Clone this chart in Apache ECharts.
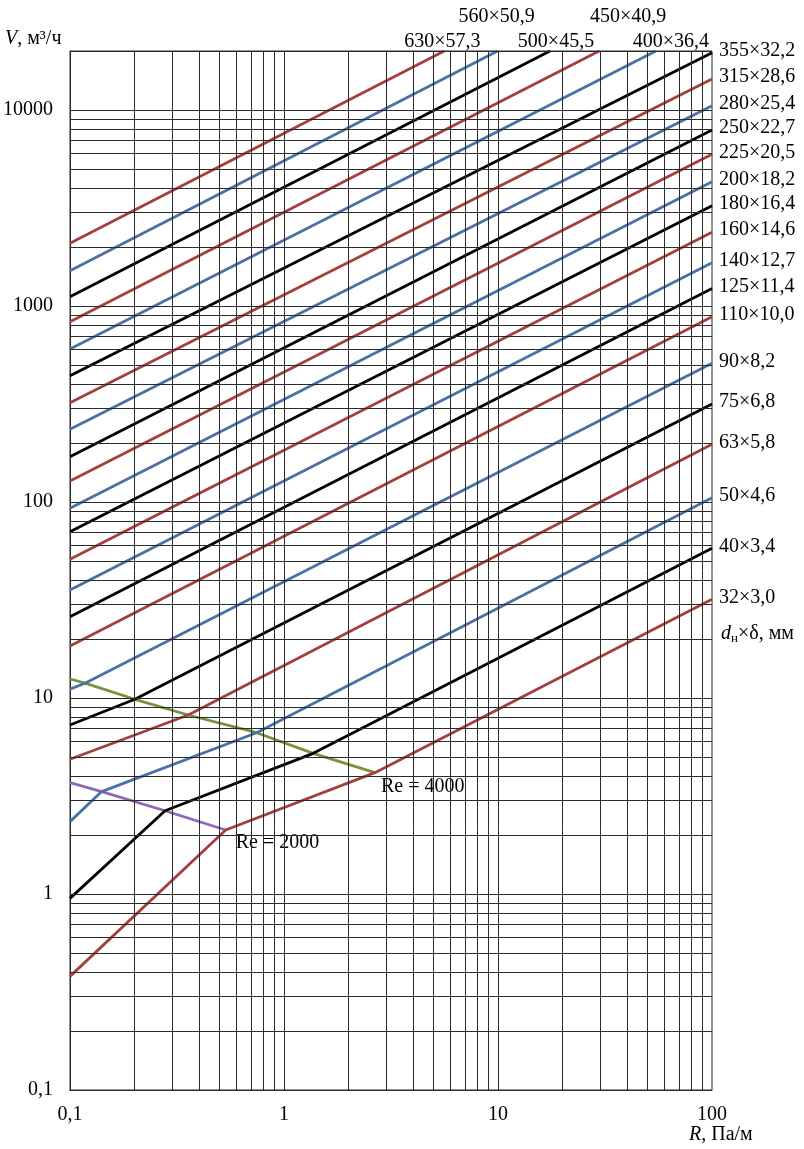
<!DOCTYPE html>
<html>
<head>
<meta charset="utf-8">
<script src="https://cdn.jsdelivr.net/npm/echarts@6/dist/echarts.min.js"></script>
<style>
html,body{margin:0;padding:0;background:#fff;}
#chart{width:804px;height:1149px;}
</style>
</head>
<body>
<div id="chart"></div>
<script>
// ---------- DATA ----------
const xTickLabels = ['0,1', '1', '10', '100'];
const yTickLabels = ['0,1', '1', '10', '100', '1000', '10000'];

const pipeNames = ['32×3,0','40×3,4','50×4,6','63×5,8','75×6,8','90×8,2','110×10,0','125×11,4',
  '140×12,7','160×14,6','180×16,4','200×18,2','225×20,5','250×22,7','280×25,4','315×28,6',
  '355×32,2','400×36,4','450×40,9','500×45,5','560×50,9','630×57,3'];

// [R, V] points of each pipe curve (R in Па/м, V in м³/ч)
const pipe32  = [[0.1,0.38],[0.534,2.12],[2.66,4.16],[100,31.9]];
const pipe40  = [[0.1,0.95],[0.278,2.66],[1.37,5.22],[100,58]];
const pipe50  = [[0.1,2.34],[0.1406,3.33],[0.745,6.65],[100,105]];
const pipe63  = [[0.1,4.87],[0.357,8.19],[100,197]];
const pipe75  = [[0.1,7.28],[0.201,9.85],[100,316]];
const pipe90  = [[0.1,11.1],[0.1175,11.9],[100,510]];
const pipe110 = [[0.1,18.4],[100,882]];
const pipe125 = [[0.1,26],[100,1230]];
const pipe140 = [[0.1,35.6],[100,1660]];
const pipe160 = [[0.1,51],[100,2380]];
const pipe180 = [[0.1,70.6],[100,3250]];
const pipe200 = [[0.1,92.9],[100,4310]];
const pipe225 = [[0.1,128],[100,5940]];
const pipe250 = [[0.1,170],[100,7900]];
const pipe280 = [[0.1,235],[100,10500]];
const pipe315 = [[0.1,321],[100,14400]];
const pipe355 = [[0.1,441],[100,19600]];
const pipe400 = [[0.1,604],[54.7,20000]];
const pipe450 = [[0.1,832],[29.7,20000]];
const pipe500 = [[0.1,1115],[17.5,20000]];
const pipe560 = [[0.1,1514],[9.96,20000]];
const pipe630 = [[0.1,2089],[5.61,20000]];

const re4000 = [[0.1,12.5],[0.1175,11.9],[0.201,9.85],[0.357,8.19],[0.745,6.65],[1.37,5.22],[2.66,4.16]];
const re2000 = [[0.1,3.70],[0.1406,3.33],[0.278,2.66],[0.534,2.12]];

const pipeData = [pipe32,pipe40,pipe50,pipe63,pipe75,pipe90,pipe110,pipe125,pipe140,pipe160,pipe180,
  pipe200,pipe225,pipe250,pipe280,pipe315,pipe355,pipe400,pipe450,pipe500,pipe560,pipe630];

// ---------- STYLE ----------
const FONT = '"Liberation Serif", "Times New Roman", serif';
const FS = 20;
const RED = '#A3403D', BLACK = '#000000', BLUE = '#4A71A5';
const colorCycle = [RED, BLACK, BLUE];
const LW = 2.8;
const GRIDC = '#2a2a2a';
const topLabelOffsets = {
  '400×36,4': [15, -9],
  '450×40,9': [29, -34],
  '500×45,5': [6, -9],
  '560×50,9': [-1, -34],
  '630×57,3': [-2, -9]
};

// grid line values (log grid 1..9 per decade)
const xGrid = [], yGrid = [];
for (let k = -1; k <= 1; k++) for (let m = 1; m <= 9; m++) xGrid.push(+(m * Math.pow(10, k)).toPrecision(3));
for (let k = -1; k <= 4; k++) for (let m = 1; m <= 9; m++) yGrid.push(+(m * Math.pow(10, k)).toPrecision(3));

const series = [];
series.push({
  type: 'line', data: [], symbol: 'none', silent: true, z: 1,
  markLine: {
    silent: true, symbol: 'none', animation: false,
    label: {show: false},
    lineStyle: {color: GRIDC, width: 1, type: 'solid'},
    emphasis: {disabled: true},
    data: xGrid.slice(1).map(v => ({xAxis: v})).concat(yGrid.slice(1).map(v => ({yAxis: v})))
  }
});

pipeNames.forEach((name, i) => {
  const top = topLabelOffsets[name];
  series.push({
    name: name,
    type: 'line',
    data: pipeData[i],
    symbol: 'none',
    z: 3,
    lineStyle: {color: colorCycle[i % 3], width: LW},
    itemStyle: {color: colorCycle[i % 3]},
    endLabel: top ? {
      show: true, formatter: p => p.seriesName, distance: 0,
      align: 'center', verticalAlign: 'middle', offset: top,
      color: '#000', fontFamily: FONT, fontSize: FS
    } : {
      show: true, formatter: p => p.seriesName, distance: 7,
      align: 'left', verticalAlign: 'middle', offset: [0, -2],
      color: '#000', fontFamily: FONT, fontSize: FS
    }
  });
});

series.push({
  name: 'Re = 4000', type: 'line', data: re4000, symbol: 'none', z: 2,
  lineStyle: {color: '#77933C', width: LW},
  endLabel: {show: true, formatter: p => p.seriesName, distance: 2, align: 'left', verticalAlign: 'middle',
    offset: [0, 14], color: '#000', fontFamily: FONT, fontSize: FS, backgroundColor: '#fff', padding: [1, 4, 1, 4]}
});
series.push({
  name: 'Re = 2000', type: 'line', data: re2000, symbol: 'none', z: 2,
  lineStyle: {color: '#8E6AB5', width: LW},
  endLabel: {show: true, formatter: p => p.seriesName, distance: 6, align: 'left', verticalAlign: 'middle',
    offset: [0, 13], color: '#000', fontFamily: FONT, fontSize: FS, backgroundColor: '#fff', padding: [1, 4, 1, 4]}
});

const chart = echarts.init(document.getElementById('chart'), null, {renderer: 'canvas'});
chart.setOption({
  animation: false,
  backgroundColor: '#fff',
  grid: {left: 70, top: 51, width: 642, height: 1039, show: true, borderColor: GRIDC, borderWidth: 1, containLabel: false},
  xAxis: {
    type: 'log', logBase: 10, min: 0.1, max: 100,
    axisLine: {show: true, lineStyle: {color: GRIDC, width: 1}},
    axisTick: {show: false},
    splitLine: {show: false},
    axisLabel: {margin: 15, color: '#000', fontFamily: FONT, fontSize: FS,
      formatter: (v, idx) => xTickLabels[idx] || ''}
  },
  yAxis: {
    type: 'log', logBase: 10, min: 0.1, max: 20000,
    axisLine: {show: true, lineStyle: {color: GRIDC, width: 1}},
    axisTick: {show: false},
    splitLine: {show: false},
    axisLabel: {margin: 17, color: '#000', fontFamily: FONT, fontSize: FS, showMaxLabel: false,
      formatter: (v, idx) => yTickLabels[idx] || ''}
  },
  graphic: [
    {type: 'text', left: 5, top: 29, style: {text: '{i|V}, м³/ч', font: FS + 'px ' + FONT, fill: '#000',
      rich: {i: {fontStyle: 'italic', fontFamily: FONT, fontSize: FS}}}},
    {type: 'text', left: 689, top: 1125, style: {text: '{i|R}, Па/м', font: FS + 'px ' + FONT, fill: '#000',
      rich: {i: {fontStyle: 'italic', fontFamily: FONT, fontSize: FS}}}},
    {type: 'text', left: 721, top: 624, style: {text: '{i|d}{s|н}×δ, мм', font: FS + 'px ' + FONT, fill: '#000',
      rich: {i: {fontStyle: 'italic', fontFamily: FONT, fontSize: FS},
             s: {fontFamily: FONT, fontSize: 13, padding: [9, 0, 0, 0]}}}}
  ],
  series: series
});
</script>
</body>
</html>
